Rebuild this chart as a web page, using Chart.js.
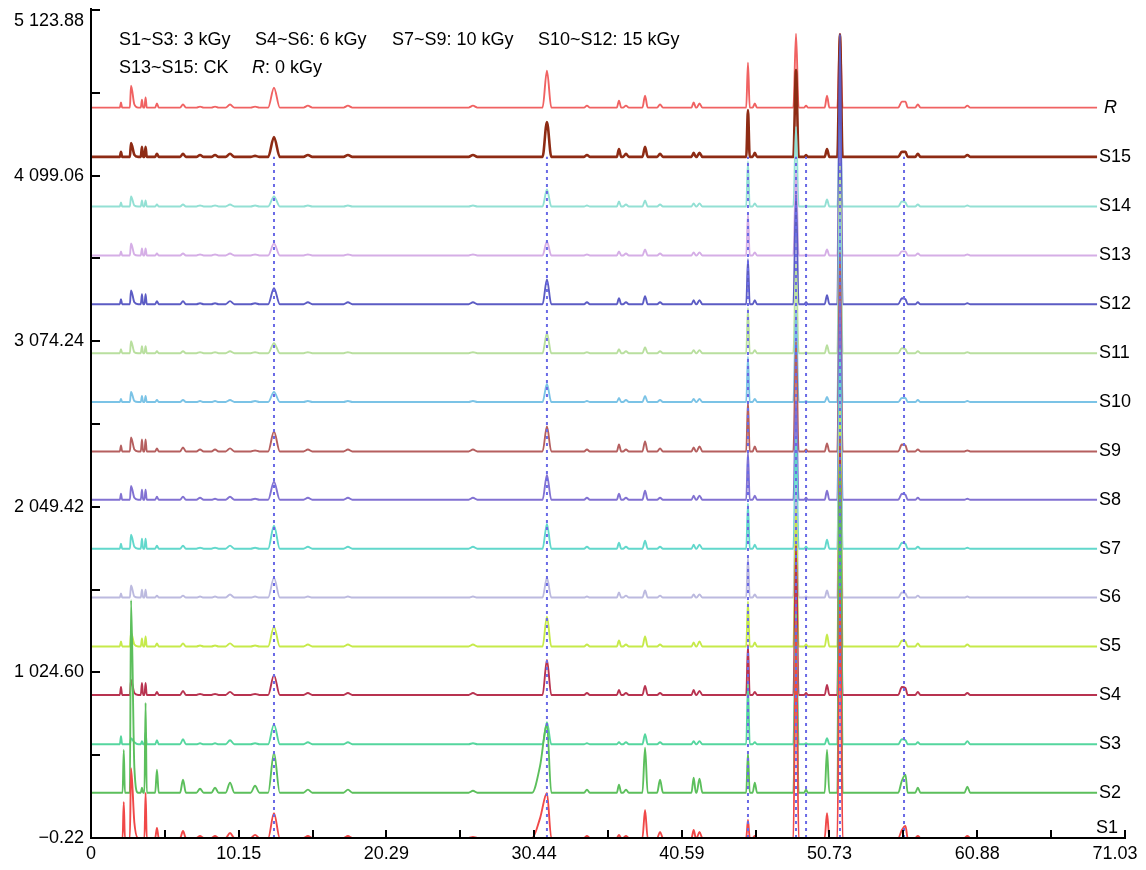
<!DOCTYPE html>
<html>
<head>
<meta charset="utf-8">
<script src="https://cdn.jsdelivr.net/npm/chart.js@4.4.1/dist/chart.umd.min.js"></script>
<style>
  html, body { margin: 0; padding: 0; background: #fff; }
  #wrap { width: 1146px; height: 870px; }
</style>
</head>
<body>
<div id="wrap"><canvas id="c" width="1146" height="870"></canvas></div>
<script>
// ---------------- DATA ----------------
const xTickValues = [0, 10.15, 20.29, 30.44, 40.59, 50.73, 60.88, 71.03];
const xTickLabels = ['0', '10.15', '20.29', '30.44', '40.59', '50.73', '60.88', '71.03'];
const xMinorTicks = [5.07, 15.22, 25.37, 35.51, 45.66, 55.80, 65.95];
const yTickValues = [-0.22, 1024.60, 2049.42, 3074.24, 4099.06, 5123.88];
const yTickLabels = ['\u22120.22', '1 024.60', '2 049.42', '3 074.24', '4 099.06', '5 123.88'];
const yMinorTicks = [512.19, 1537.01, 2561.83, 3586.65, 4611.47];

const runStart = 0;
const runEnd = 69.11;

// retention times of the peaks (min) and their half widths
const peakTimes = [2.06, 2.25, 2.75, 2.98, 3.50, 3.75, 4.53, 6.32, 7.49, 8.52, 9.55, 11.27, 12.57, 14.90, 17.65, 26.24, 30.85, 31.32, 34.07, 36.27, 36.75, 38.06, 39.09, 41.40, 41.80, 45.13, 45.60, 48.43, 49.12, 50.56, 51.45, 55.70, 55.95, 56.80, 60.20];
const peakHalfWidths = [0.08, 0.08, 0.08, 0.25, 0.08, 0.08, 0.12, 0.2, 0.25, 0.25, 0.3, 0.3, 0.4, 0.3, 0.3, 0.3, 0.55, 0.3, 0.2, 0.15, 0.2, 0.18, 0.2, 0.15, 0.2, 0.12, 0.15, 0.18, 0.12, 0.16, 0.18, 0.25, 0.15, 0.18, 0.2];

// marker lines (dotted) retention times
const markerTimes = [12.57, 31.32, 45.13, 48.43, 49.12, 51.45, 55.85];
const markerTop = 4215;

const seriesNames = ['S1', 'S2', 'S3', 'S4', 'S5', 'S6', 'S7', 'S8', 'S9', 'S10', 'S11', 'S12', 'S13', 'S14', 'S15', 'R'];
const seriesBaselines = [0, 280, 580, 885, 1185, 1488, 1790, 2093, 2392, 2698, 3000, 3303, 3605, 3908, 4215, 4520];
const seriesColors = ['#f04848', '#5cbf5c', '#55d69e', '#b83350', '#c6ea4a', '#bcbadf', '#62d8cc', '#8272d2', '#b55f5f', '#7bc3e6', '#b9df9f', '#5c5cc4', '#d5aee6', '#93e0d4', '#8e2b14', '#f06262'];

// peak heights above each baseline (signal units), one value per retention time
const heightsS1  = [0, 222, 432, 93, 0, 278, 62, 43, 12, 12, 31, 19, 154, 12, 12, 6, 123, 278, 12, 19, 12, 173, 37, 49, 37, 111, 12, 1358, 0, 154, 1543, 49, 74, 12, 12];
const heightsS2  = [0, 265, 1191, 154, 31, 556, 142, 80, 25, 31, 62, 43, 247, 19, 19, 12, 167, 420, 19, 49, 19, 278, 80, 93, 86, 247, 62, 926, 19, 265, 2037, 74, 111, 31, 37];
const heightsS3  = [49, 0, 37, 12, 19, 74, 25, 31, 6, 6, 25, 6, 123, 12, 12, 6, 0, 136, 6, 12, 12, 62, 12, 19, 19, 370, 12, 802, 6, 37, 1728, 31, 25, 12, 19];
const heightsS4  = [49, 0, 93, 12, 74, 74, 19, 25, 6, 6, 19, 6, 123, 12, 12, 12, 0, 216, 12, 31, 12, 56, 12, 31, 25, 309, 19, 926, 12, 62, 1605, 49, 43, 19, 12];
const heightsS5  = [31, 0, 86, 12, 49, 62, 19, 19, 6, 6, 19, 6, 123, 12, 12, 12, 0, 185, 12, 37, 12, 62, 12, 25, 31, 278, 25, 864, 12, 74, 1481, 37, 31, 19, 12];
const heightsS6  = [25, 0, 74, 6, 49, 49, 12, 12, 6, 6, 19, 6, 123, 6, 6, 6, 0, 123, 6, 31, 12, 43, 12, 19, 19, 247, 19, 679, 6, 43, 1235, 31, 25, 12, 6];
const heightsS7  = [31, 0, 86, 12, 62, 62, 19, 19, 6, 6, 19, 6, 142, 12, 12, 12, 0, 154, 12, 37, 12, 49, 12, 25, 25, 278, 25, 679, 12, 56, 1235, 37, 31, 12, 6];
const heightsS8  = [37, 0, 86, 12, 62, 62, 19, 19, 12, 6, 19, 6, 111, 12, 12, 12, 0, 154, 12, 37, 12, 56, 12, 25, 25, 296, 25, 617, 12, 56, 1235, 37, 31, 12, 6];
const heightsS9  = [37, 0, 86, 12, 74, 74, 19, 25, 12, 12, 19, 6, 123, 12, 12, 12, 0, 154, 12, 43, 12, 62, 19, 25, 31, 309, 31, 679, 12, 49, 1235, 43, 37, 12, 6];
const heightsS10 = [19, 0, 62, 6, 37, 37, 12, 12, 6, 6, 12, 6, 62, 6, 6, 6, 0, 111, 6, 25, 12, 37, 12, 19, 19, 278, 19, 556, 6, 31, 1173, 25, 25, 12, 6];
const heightsS11 = [25, 0, 74, 6, 43, 43, 12, 12, 6, 6, 12, 6, 62, 6, 6, 6, 0, 123, 6, 25, 12, 37, 12, 19, 19, 278, 19, 556, 6, 49, 1173, 31, 25, 12, 6];
const heightsS12 = [31, 0, 86, 12, 62, 62, 19, 19, 6, 6, 19, 6, 99, 12, 12, 12, 0, 154, 12, 37, 12, 49, 12, 25, 25, 278, 25, 679, 12, 56, 1672, 37, 31, 12, 6];
const heightsS13 = [25, 0, 74, 6, 43, 43, 12, 12, 6, 6, 12, 6, 74, 6, 6, 6, 0, 86, 6, 25, 12, 37, 12, 19, 19, 259, 19, 525, 6, 37, 700, 25, 25, 12, 6];
const heightsS14 = [25, 0, 62, 6, 37, 37, 12, 12, 6, 6, 12, 6, 62, 6, 6, 6, 0, 105, 6, 31, 12, 37, 12, 19, 19, 278, 19, 494, 6, 43, 500, 31, 25, 12, 6];
const heightsS15 = [31, 0, 86, 12, 62, 62, 19, 19, 12, 12, 19, 6, 123, 12, 12, 12, 0, 216, 12, 49, 19, 62, 19, 25, 25, 290, 25, 537, 12, 49, 759, 31, 31, 19, 12];
const heightsR   = [31, 0, 136, 19, 49, 62, 25, 19, 6, 6, 19, 6, 123, 12, 12, 12, 0, 228, 12, 43, 12, 74, 19, 31, 25, 278, 25, 457, 12, 74, 457, 37, 37, 19, 12];

const seriesHeights = [heightsS1, heightsS2, heightsS3, heightsS4, heightsS5, heightsS6, heightsS7, heightsS8, heightsS9, heightsS10, heightsS11, heightsS12, heightsS13, heightsS14, heightsS15, heightsR];

// ---------------- BUILD ----------------
function buildTrace(base, heights) {
  const pts = [{x: runStart, y: base}, {x: runEnd, y: base}];
  heights.forEach((h, i) => {
    if (!h) return;
    const t = peakTimes[i], w = peakHalfWidths[i];
    pts.push({x: t, y: base + h});
    [t - w, t + w].forEach(fx => {
      const inside = heights.some((h2, j) => j !== i && h2 > 0 && Math.abs(fx - peakTimes[j]) < peakHalfWidths[j]);
      if (!inside) pts.push({x: fx, y: base});
    });
  });
  pts.sort((a, b) => a.x - b.x);
  return pts;
}

const markerData = [];
markerTimes.forEach(t => {
  markerData.push({x: t, y: yTickValues[0]});
  markerData.push({x: t, y: markerTop});
  markerData.push({x: t, y: null});
});

const datasets = [{
  label: 'markers',
  data: markerData,
  borderColor: '#6a6ae6',
  borderWidth: 2,
  borderDash: [3, 4],
  pointRadius: 0,
  spanGaps: false,
  tension: 0
}];
seriesNames.forEach((name, k) => {
  datasets.push({
    label: name,
    data: buildTrace(seriesBaselines[k], seriesHeights[k]),
    borderColor: seriesColors[k],
    borderWidth: name === 'S15' ? 2.6 : 1.9,
    pointRadius: 0,
    cubicInterpolationMode: 'monotone'
  });
});

const FONT = '"Liberation Sans", Arial, Helvetica, sans-serif';

const decorPlugin = {
  id: 'decor',
  afterDatasetsDraw(chart) {
    const {ctx, chartArea: a, scales} = chart;
    const xs = scales.x, ys = scales.y;
    ctx.save();
    ctx.strokeStyle = '#000';
    ctx.lineWidth = 2;
    ctx.lineCap = 'butt';
    const xEnd = xs.getPixelForValue(xTickValues[xTickValues.length - 1]);
    const yTop = ys.getPixelForValue(yTickValues[yTickValues.length - 1]);
    ctx.beginPath();
    ctx.moveTo(a.left, yTop - 2);
    ctx.lineTo(a.left, a.bottom + 1);
    ctx.moveTo(a.left - 1, a.bottom);
    ctx.lineTo(xEnd + 1, a.bottom);
    ctx.stroke();
    ctx.beginPath();
    yTickValues.concat(yMinorTicks).forEach(v => {
      const py = Math.round(ys.getPixelForValue(v));
      ctx.moveTo(a.left, py);
      ctx.lineTo(a.left + 9, py);
    });
    xTickValues.concat(xMinorTicks).forEach(v => {
      const px = Math.round(xs.getPixelForValue(v));
      ctx.moveTo(px, a.bottom);
      ctx.lineTo(px, a.bottom - 8);
    });
    ctx.stroke();

    // series labels
    ctx.fillStyle = '#000';
    ctx.textBaseline = 'middle';
    ctx.textAlign = 'left';
    const lx = xs.getPixelForValue(runEnd);
    seriesNames.forEach((name, k) => {
      const py = ys.getPixelForValue(seriesBaselines[k]);
      if (name === 'R') {
        ctx.font = 'italic 18px ' + FONT;
        ctx.fillText(name, lx + 7, py);
      } else if (name === 'S1') {
        ctx.font = '18px ' + FONT;
        ctx.fillText(name, lx - 1, py - 10);
      } else {
        ctx.font = '18px ' + FONT;
        ctx.fillText(name, lx + 2, py);
      }
    });

    // dose legend text
    ctx.font = '18px ' + FONT;
    ctx.fillText('S1~S3: 3 kGy', 119, 40);
    ctx.fillText('S4~S6: 6 kGy', 255, 40);
    ctx.fillText('S7~S9: 10 kGy', 392, 40);
    ctx.fillText('S10~S12: 15 kGy', 538, 40);
    ctx.fillText('S13~S15: CK', 119, 68);
    ctx.font = 'italic 18px ' + FONT;
    ctx.fillText('R', 252, 68);
    const rw = ctx.measureText('R').width;
    ctx.font = '18px ' + FONT;
    ctx.fillText(': 0 kGy', 252 + rw, 68);
    ctx.restore();
  }
};

function zeroPadding(scale) {
  scale.paddingTop = 0;
  scale.paddingBottom = 0;
  scale.paddingLeft = 0;
  scale.paddingRight = 0;
}

new Chart(document.getElementById('c'), {
  type: 'line',
  data: {datasets},
  plugins: [decorPlugin],
  options: {
    responsive: false,
    animation: false,
    events: [],
    layout: {autoPadding: false, padding: {top: 10, right: 21, left: 0, bottom: 0}},
    plugins: {legend: {display: false}, tooltip: {enabled: false}, title: {display: false}},
    scales: {
      x: {
        type: 'linear',
        min: xTickValues[0],
        max: xTickValues[xTickValues.length - 1],
        afterFit(scale) { scale.height = 32; zeroPadding(scale); },
        afterBuildTicks(scale) { scale.ticks = xTickValues.map(v => ({value: v})); },
        grid: {display: false, drawTicks: false},
        border: {display: false},
        ticks: {
          autoSkip: false,
          maxRotation: 0,
          padding: 5,
          color: '#000',
          font: {family: FONT, size: 18},
          callback: (v, i) => i === xTickLabels.length - 1 ? xTickLabels[i] + '\u2007\u2007' : xTickLabels[i]
        }
      },
      y: {
        type: 'linear',
        min: yTickValues[0],
        max: yTickValues[yTickValues.length - 1],
        afterFit(scale) { scale.width = 91; zeroPadding(scale); },
        afterBuildTicks(scale) { scale.ticks = yTickValues.map(v => ({value: v})); },
        grid: {display: false, drawTicks: false},
        border: {display: false},
        ticks: {
          autoSkip: false,
          padding: 7,
          color: '#000',
          font: {family: FONT, size: 18},
          callback: (v, i) => i === yTickLabels.length - 1 ? ['', yTickLabels[i]] : yTickLabels[i]
        }
      }
    }
  }
});
</script>
</body>
</html>
